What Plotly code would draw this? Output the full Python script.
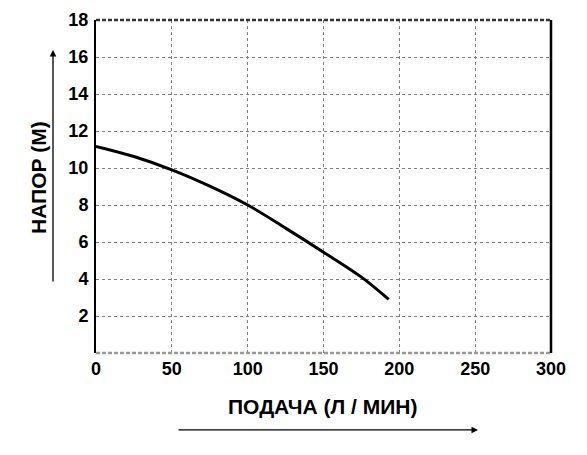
import plotly.graph_objects as go

# pump curve
flow = [0, 25, 50, 75, 100, 125, 150, 175, 193]
head = [11.17, 10.62, 9.9, 9.02, 8.0, 6.75, 5.45, 4.1, 2.9]

x_ticks = [0, 50, 100, 150, 200, 250, 300]
y_ticks = [2, 4, 6, 8, 10, 12, 14, 16, 18]

x_title = 'ПОДАЧА (Л / МИН)'
y_title = 'НАПОР (М)'

font = 'Liberation Sans, Arial, sans-serif'

fig = go.Figure()
fig.add_trace(go.Scatter(x=flow, y=head, mode='lines',
                         line=dict(color='black', width=3, shape='spline', smoothing=1),
                         showlegend=False, hoverinfo='skip'))

# page body has an 8px margin, so the figure is 16px smaller than the window
fig.update_layout(
    width=571, height=439,
    margin=dict(l=88, r=28, t=12, b=94),
    paper_bgcolor='white', plot_bgcolor='white',
    font=dict(family=font, color='black'),
)
fig.update_xaxes(range=[0, 300], tickvals=x_ticks, ticktext=[f'<b>{t}</b>' for t in x_ticks],
                 tickfont=dict(size=18), ticks='', ticklabelstandoff=3,
                 showgrid=True, gridcolor='#808080', gridwidth=1, griddash='dot',
                 showline=False, zeroline=False, fixedrange=True, automargin=False)
fig.update_yaxes(range=[0, 18], tickvals=y_ticks, ticktext=[f'<b>{t}</b>' for t in y_ticks],
                 tickfont=dict(size=18), ticks='', ticklabelstandoff=2,
                 showgrid=True, gridcolor='#808080', gridwidth=1, griddash='dot',
                 showline=True, linecolor='black', linewidth=2, zeroline=False,
                 fixedrange=True, automargin=False)

# frame: dashed top and bottom, solid right
fig.add_shape(type='line', xref='paper', yref='paper', x0=0, x1=1, y0=1, y1=1,
              line=dict(color='#333', width=2.5, dash='4px,2px'))
fig.add_shape(type='line', xref='paper', yref='paper', x0=0, x1=1, y0=0, y1=0,
              line=dict(color='#999', width=2.5, dash='4px,2px'))
fig.add_shape(type='line', xref='paper', yref='paper', x0=1, x1=1, y0=0, y1=1,
              line=dict(color='black', width=2.5))

# axis titles
fig.add_annotation(text=f'<b>{y_title}</b>', xref='paper', yref='paper',
                   x=-0.1275, y=0.5285, xanchor='center', yanchor='middle',
                   textangle=-90, showarrow=False, font=dict(size=21))
fig.add_annotation(text=f'<b>{x_title}</b>', xref='paper', yref='paper',
                   x=0.497, y=-0.162, xanchor='center', yanchor='middle',
                   showarrow=False, font=dict(size=21))

# direction arrows
fig.add_annotation(text='', xref='paper', yref='paper', x=-0.0945, y=0.91,
                   ax=0, ay=233, showarrow=True, arrowhead=2, arrowsize=1,
                   arrowwidth=1.3, arrowcolor='black')
fig.add_annotation(text='', xref='paper', yref='paper', x=0.8396, y=-0.231,
                   ax=-301, ay=0, showarrow=True, arrowhead=2, arrowsize=1,
                   arrowwidth=1.3, arrowcolor='black')

fig.write_html('out.html')
